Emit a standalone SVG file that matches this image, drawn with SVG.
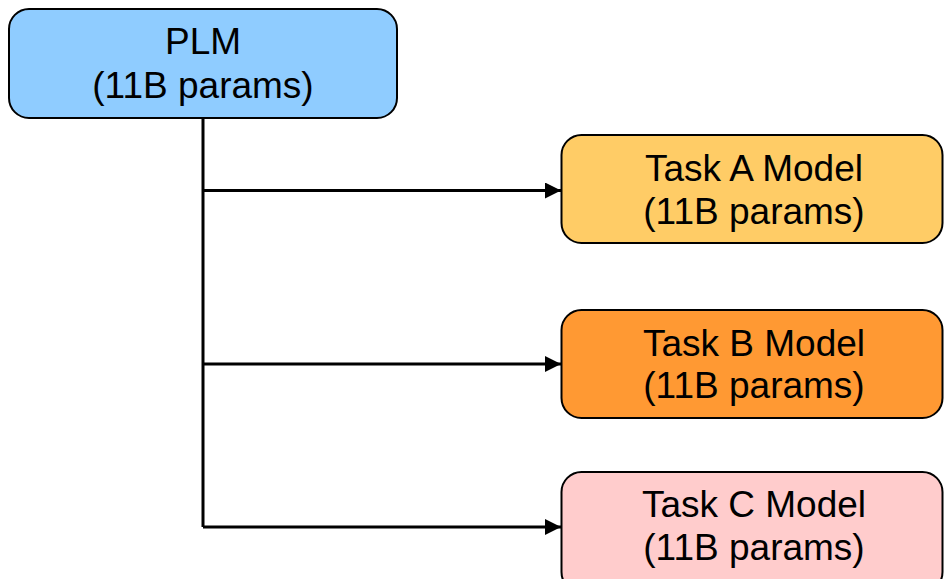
<svg xmlns="http://www.w3.org/2000/svg" width="945" height="579" viewBox="0 0 945 579">
  <style>
    .box { stroke: #000; stroke-width: 2; }
    .label { font-family: "Liberation Sans", Arial, sans-serif; font-size: 37px; fill: #000; text-anchor: middle; }
    .wire { fill: none; stroke: #000; stroke-width: 3; }
  </style>
  <defs>
    <marker id="arrow" markerUnits="userSpaceOnUse" markerWidth="18" markerHeight="16" refX="16" refY="8" orient="auto">
      <path d="M0,0 L16,8 L0,16 Z" fill="#000"/>
    </marker>
  </defs>
  <rect width="945" height="579" fill="#fff"/>

  <g id="connectors">
    <path class="wire" d="M203,118 V527"/>
    <path class="wire" d="M203,190.5 H561" marker-end="url(#arrow)"/>
    <path class="wire" d="M203,364 H561" marker-end="url(#arrow)"/>
    <path class="wire" d="M203,527 H561" marker-end="url(#arrow)"/>
  </g>

  <g id="plm">
    <rect class="box" x="9" y="9" width="388" height="109" rx="20" fill="#8FCCFF"/>
    <text class="label" x="203" y="54">PLM</text>
    <text class="label" x="203" y="97.5">(11B params)</text>
  </g>

  <g id="task-a">
    <rect class="box" x="561.5" y="135" width="381" height="108" rx="20" fill="#FFCC66"/>
    <text class="label" x="754" y="181">Task A Model</text>
    <text class="label" x="754" y="224">(11B params)</text>
  </g>

  <g id="task-b">
    <rect class="box" x="561.5" y="310" width="381" height="108" rx="20" fill="#FF9933"/>
    <text class="label" x="754" y="356">Task B Model</text>
    <text class="label" x="754" y="398">(11B params)</text>
  </g>

  <g id="task-c">
    <rect class="box" x="561.5" y="472" width="381" height="120" rx="20" fill="#FFCCCC"/>
    <text class="label" x="754" y="517">Task C Model</text>
    <text class="label" x="754" y="560">(11B params)</text>
  </g>
</svg>
